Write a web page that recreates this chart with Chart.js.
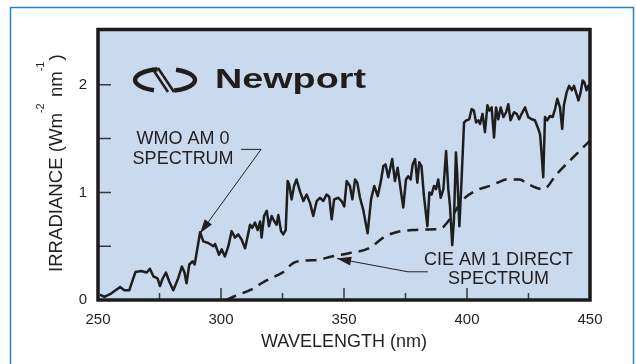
<!DOCTYPE html>
<html>
<head>
<meta charset="utf-8">
<script src="https://cdn.jsdelivr.net/npm/chart.js@4.4.1/dist/chart.umd.min.js"></script>
<style>
  html, body { margin: 0; padding: 0; background: #fff; }
  canvas { display: block; }
</style>
</head>
<body>
<canvas id="chart" width="636" height="364"></canvas>
<script>
// WMO AM 0 spectrum (solid)
const wmoWavelength = [
  250.8, 252.6, 255.3, 259, 260.7, 262.7, 265.2, 267.5, 269.8, 271.1,
  272.5, 274.2, 275.2, 276.3, 277.6, 279, 280.6, 282.4, 284.1, 285.1,
  286, 287.1, 288.5, 289.3, 291.5, 292.8, 294.8, 296.9, 297.6, 299.2,
  300.3, 301.6, 303, 304.3, 305.7, 307, 308.4, 309.8, 311.1, 311.8,
  312.7, 313.8, 314.9, 315.9, 316.5, 317.5, 318.6, 319.5, 320.6, 321.7,
  322.6, 323.3, 324.4, 325.3, 326.3, 327.1, 327.7, 328.7, 329.7, 330.7,
  332.1, 333.5, 334.8, 336.2, 337.5, 338.9, 340.2, 341.6, 342.9, 344,
  345, 346, 347.7, 349, 350.1, 351.1, 352.4, 353.4, 354.5, 355.4,
  356.5, 357.8, 359.6, 361, 362.3, 363.7, 365, 366, 366.9, 368,
  368.7, 369.6, 370.7, 371.8, 373.2, 374.1, 375.2, 376.1, 377.1, 377.9,
  378.9, 379.8, 380.6, 381.5, 382.5, 383.9, 384.7, 385.6, 386.6, 387.4,
  388.3, 389.3, 390.4, 391.5, 392.4, 393.1, 394, 394.7, 395.5, 396,
  396.9, 397.8, 398.8, 399.8, 400.9, 401.9, 402.8, 403.7, 404.6, 405.3,
  406.3, 407.3, 408.3, 409.1, 410, 411, 411.8, 412.7, 413.7, 414.8,
  415.9, 416.8, 417.7, 419.1, 420.2, 421.2, 422.2, 423.6, 424.9, 426.3,
  427.6, 429, 429.7, 430.3, 431, 431.7, 432.6, 433.7, 434.8, 435.8,
  436.7, 437.8, 438.7, 439.4, 440.5, 441.5, 442.6, 443.5, 444.3, 445.3,
  446.2, 447, 447.7, 448.6, 449.3, 450
];
const wmoIrradiance = [
  0.05, 0.03, 0.06, 0.12, 0.09, 0.09, 0.26, 0.27, 0.255, 0.29,
  0.22, 0.20, 0.13, 0.20, 0.255, 0.17, 0.09, 0.19, 0.31, 0.26,
  0.155, 0.33, 0.36, 0.33, 0.63, 0.545, 0.53, 0.50, 0.52, 0.42,
  0.47, 0.405, 0.50, 0.64, 0.58, 0.61, 0.56, 0.48, 0.62, 0.70,
  0.67, 0.72, 0.65, 0.73, 0.58, 0.78, 0.83, 0.685, 0.78, 0.73,
  0.70, 0.79, 0.64, 0.61, 0.65, 1.105, 1.075, 0.935, 1.06, 1.12,
  1.01, 0.92, 0.98, 0.90, 0.78, 0.92, 0.95, 0.92, 0.98, 0.96,
  0.75, 0.935, 0.95, 0.92, 0.87, 1.105, 1.06, 0.935, 1.12, 1.09,
  0.95, 0.84, 0.62, 0.935, 1.06, 0.965, 1.105, 1.245, 1.26, 1.14,
  1.215, 1.31, 1.105, 1.23, 1.0, 0.86, 1.12, 1.15, 1.12, 1.26,
  1.31, 1.09, 1.28, 1.245, 0.965, 0.685, 1.0, 0.98, 1.06, 1.03,
  1.12, 0.95, 1.03, 1.385, 1.03, 0.87, 0.51, 0.75, 1.37, 1.18,
  0.685, 1.12, 1.65, 1.67, 1.68, 1.775, 1.76, 1.65, 1.67, 1.635,
  1.73, 1.56, 1.81, 1.76, 1.79, 1.51, 1.79, 1.68, 1.79, 1.70,
  1.745, 1.82, 1.67, 1.745, 1.73, 1.68, 1.73, 1.79, 1.70, 1.68,
  1.67, 1.59, 1.54, 1.37, 1.14, 1.70, 1.67, 1.71, 1.70, 1.775,
  1.87, 1.79, 1.59, 1.81, 1.93, 1.99, 1.95, 1.99, 1.93, 1.855,
  1.93, 2.04, 2.025, 1.95, 1.99, 1.96
];

// CIE AM 1 direct spectrum (dashed)
const cieWavelength = [
  302, 305, 313, 316.5, 320, 325, 329.5, 334, 340, 345,
  352, 360, 366.7, 372, 378, 384, 389, 393, 398.5, 405,
  409.3, 413.4, 416, 421.5, 424.2, 431, 436.5, 442, 447.3, 450
];
const cieIrradiance = [
  0, 0.03, 0.105, 0.156, 0.20, 0.255, 0.345, 0.365, 0.375, 0.405,
  0.435, 0.48, 0.59, 0.635, 0.65, 0.655, 0.66, 0.75, 0.935, 1.03,
  1.06, 1.10, 1.12, 1.12, 1.085, 1.03, 1.17, 1.30, 1.42, 1.48
];

// axis settings
const xMin = 250, xMax = 450, xStep = 25;
const yMin = 0, yMax = 2.5, yStep = 0.5;

// callouts, anchored in data units: [wavelength, irradiance]
const wmoLabel = ['WMO AM 0', 'SPECTRUM'];
const wmoLabelAt = [284.6, 1.495];
const wmoLeader = [[308.1, 1.40], [316.3, 1.40], [291.5, 0.62]];
const cieLabel = ['CIE AM 1 DIRECT', 'SPECTRUM'];
const cieLabelAt = [412.8, 0.374];
const cieLeader = [[384.1, 0.262], [376, 0.262], [347.2, 0.385]];

const FONT = '"Liberation Sans", Arial, Helvetica, sans-serif';
const INK = '#231f20';

function toPoints(xs, ys) {
  return xs.map((x, i) => ({ x: x, y: ys[i] }));
}

function arrowLine(ctx, pts) {
  ctx.beginPath();
  ctx.moveTo(pts[0][0], pts[0][1]);
  for (let i = 1; i < pts.length; i++) ctx.lineTo(pts[i][0], pts[i][1]);
  ctx.stroke();
  const [tx, ty] = pts[pts.length - 1];
  const [px, py] = pts[pts.length - 2];
  const a = Math.atan2(ty - py, tx - px);
  const len = 14, half = 4.5;
  ctx.beginPath();
  ctx.moveTo(tx, ty);
  ctx.lineTo(tx - len * Math.cos(a) + half * Math.sin(a), ty - len * Math.sin(a) - half * Math.cos(a));
  ctx.lineTo(tx - len * Math.cos(a) - half * Math.sin(a), ty - len * Math.sin(a) + half * Math.cos(a));
  ctx.closePath();
  ctx.fill();
}

const decorPlugin = {
  id: 'decor',
  beforeDraw(chart) {
    const { ctx, chartArea: a } = chart;
    ctx.save();
    // outer blue frame
    ctx.strokeStyle = '#1b87c9';
    ctx.lineWidth = 1.5;
    ctx.strokeRect(10.5, 7.5, 623, 400);
    // plot background
    ctx.fillStyle = '#c9d9ee';
    ctx.fillRect(a.left, a.top - 1.5, a.right - a.left, a.bottom - a.top + 1.5);
    ctx.restore();
  },
  beforeDatasetsDraw(chart) {
    const { ctx, chartArea: a } = chart;
    ctx.save();
    // Newport logo
    ctx.strokeStyle = '#1f1d1e';
    ctx.fillStyle = '#1f1d1e';
    ctx.lineWidth = 4.5;
    const cx = a.left + 67, cy = a.top + 49;
    ctx.beginPath();
    ctx.ellipse(cx, cy, 30, 11, 0, 0.62 * Math.PI, 1.42 * Math.PI);
    ctx.stroke();
    ctx.beginPath();
    ctx.ellipse(cx, cy, 30, 11, 0, 1.62 * Math.PI, 2.4 * Math.PI);
    ctx.stroke();
    ctx.lineWidth = 2.5;
    ctx.beginPath();
    ctx.moveTo(cx - 13, cy - 12); ctx.lineTo(cx + 3, cy + 12);
    ctx.moveTo(cx - 7, cy - 12); ctx.lineTo(cx + 9, cy + 12);
    ctx.stroke();

    ctx.font = 'bold 28px ' + FONT;
    ctx.textBaseline = 'alphabetic';
    ctx.textAlign = 'left';
    const w = ctx.measureText('Newport').width;
    ctx.translate(a.left + 117, a.top + 57);
    ctx.scale(151 / w, 1);
    ctx.fillText('Newport', 0, 0);
    ctx.restore();
  },
  afterDatasetsDraw(chart) {
    const { ctx, chartArea: a, scales } = chart;
    const xs = scales.x, ys = scales.y;
    ctx.save();
    // inner tick marks
    ctx.strokeStyle = '#3a3a3a';
    ctx.lineWidth = 1.5;
    ctx.beginPath();
    xs.ticks.forEach(t => {
      if (t.value <= xMin || t.value >= xMax) return;
      const px = xs.getPixelForValue(t.value);
      const len = t.value % 50 === 0 ? 12 : 7;
      ctx.moveTo(px, a.bottom);
      ctx.lineTo(px, a.bottom - len);
    });
    ys.ticks.forEach(t => {
      if (t.value <= yMin || t.value >= yMax) return;
      const py = ys.getPixelForValue(t.value);
      ctx.moveTo(a.left, py);
      ctx.lineTo(a.left + 13, py);
    });
    ctx.stroke();

    // plot frame
    ctx.strokeStyle = '#1c1a1b';
    ctx.lineWidth = 3.5;
    ctx.strokeRect(a.left, a.top - 1.5, a.right - a.left, a.bottom - a.top + 1.5);

    // callouts
    ctx.fillStyle = INK;
    ctx.strokeStyle = INK;
    ctx.lineWidth = 1;
    ctx.font = '18px ' + FONT;
    ctx.textAlign = 'center';
    ctx.textBaseline = 'middle';
    const put = (lines, at) => {
      const px = xs.getPixelForValue(at[0]);
      const py = ys.getPixelForValue(at[1]);
      lines.forEach((s, i) => ctx.fillText(s, px, py + i * 19.5));
    };
    put(wmoLabel, wmoLabelAt);
    put(cieLabel, cieLabelAt);
    const toPx = pts => pts.map(p => [xs.getPixelForValue(p[0]), ys.getPixelForValue(p[1])]);
    arrowLine(ctx, toPx(wmoLeader));
    arrowLine(ctx, toPx(cieLeader));

    // y axis title with superscripts
    ctx.font = '17px ' + FONT;
    const headW = ctx.measureText('IRRADIANCE (Wm').width;
    const size = 17 * 159 / headW;
    const big = size.toFixed(2) + 'px ' + FONT, small = '11px ' + FONT;
    const parts = [['IRRADIANCE (Wm', false], ['-2', true], [' nm', false], ['-1', true], [')', false]];
    ctx.translate(57, a.bottom - 28);
    ctx.rotate(-Math.PI / 2);
    ctx.textAlign = 'left';
    let pos = 0;
    parts.forEach(p => {
      ctx.font = p[1] ? small : big;
      ctx.fillText(p[0], pos, p[1] ? -16 : 0);
      pos += ctx.measureText(p[0]).width + (p[1] ? 1 : 0);
    });
    ctx.restore();
  }
};

new Chart(document.getElementById('chart'), {
  type: 'line',
  data: {
    datasets: [
      {
        label: 'CIE AM 1 DIRECT SPECTRUM',
        data: toPoints(cieWavelength, cieIrradiance),
        borderColor: '#1e1e1e',
        borderWidth: 2.5,
        borderDash: [11, 7],
        cubicInterpolationMode: 'monotone',
        pointRadius: 0,
        fill: false
      },
      {
        label: 'WMO AM 0 SPECTRUM',
        data: toPoints(wmoWavelength, wmoIrradiance),
        borderColor: '#1e1e1e',
        borderWidth: 2.5,
        borderJoinStyle: 'round',
        tension: 0,
        pointRadius: 0,
        fill: false
      }
    ]
  },
  options: {
    responsive: false,
    animation: false,
    layout: { padding: { top: 31, right: 46, left: 0, bottom: 0 } },
    plugins: {
      legend: { display: false },
      tooltip: { enabled: false }
    },
    scales: {
      x: {
        type: 'linear',
        min: xMin,
        max: xMax,
        border: { display: false },
        grid: { display: false, drawTicks: false },
        ticks: {
          stepSize: xStep,
          autoSkip: false,
          maxRotation: 0,
          padding: 11,
          color: INK,
          font: { family: FONT, size: 15 },
          callback: v => (v % 50 === 0 ? v : '')
        },
        title: {
          display: true,
          text: 'WAVELENGTH (nm)',
          color: INK,
          font: { family: FONT, size: 18 },
          padding: { top: 0, bottom: 11 }
        },
        afterFit: s => { s.height = 64; }
      },
      y: {
        min: yMin,
        max: yMax,
        border: { display: false },
        grid: { display: false, drawTicks: false },
        ticks: {
          stepSize: yStep,
          padding: 11,
          color: INK,
          font: { family: FONT, size: 15 },
          callback: v => (Number.isInteger(v) ? v : '')
        },
        afterFit: s => { s.width = 98; }
      }
    }
  },
  plugins: [decorPlugin]
});
</script>
</body>
</html>
